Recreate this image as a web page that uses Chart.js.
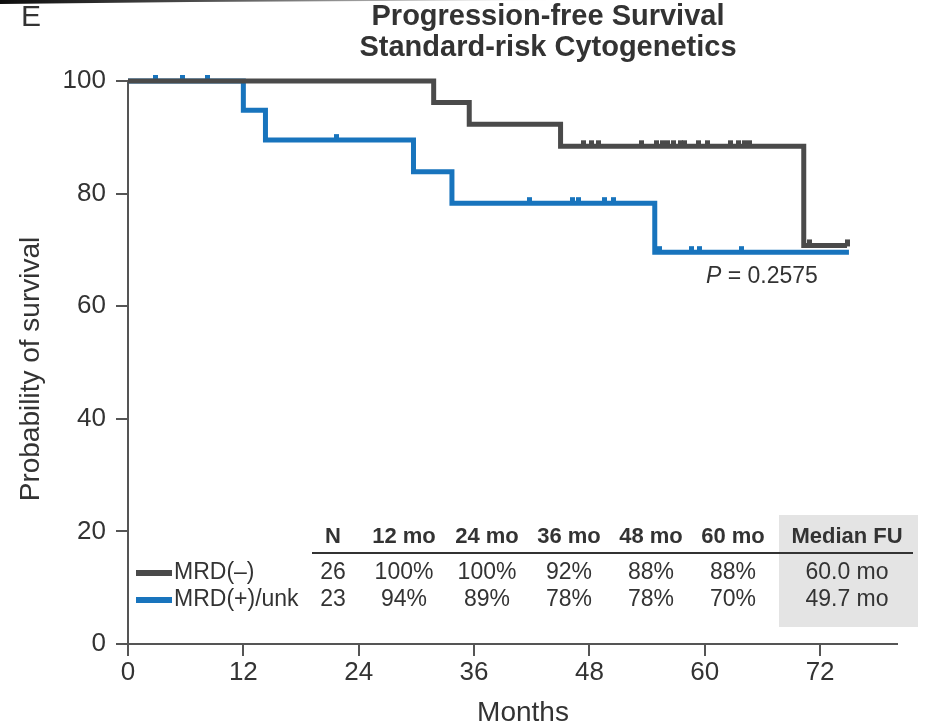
<!DOCTYPE html>
<html>
<head>
<meta charset="utf-8">
<script src="https://cdn.jsdelivr.net/npm/chart.js@4.4.1/dist/chart.umd.min.js"></script>
<style>
html,body{margin:0;padding:0;background:#fff;}
#wrap{position:relative;width:926px;height:728px;}
</style>
</head>
<body>
<div id="wrap"><canvas id="c" width="926" height="728"></canvas></div>
<script>
// ---- Data ----
const titleLines = ["Progression-free Survival", "Standard-risk Cytogenetics"];
const panelLabel = "E";
const xTitle = "Months";
const yTitle = "Probability of survival";
const pLabel = "= 0.2575";

// MRD(-) Kaplan-Meier steps (months, survival %)
const negTimes = [0, 31.8, 35.5, 45.0, 70.3, 74.8];
const negSurv  = [100, 96.2, 92.3, 88.4, 70.8, 70.8];
// MRD(-) censor marks
const negCensorT = [47.4, 48.2, 48.9, 53.4, 55.0, 55.6, 56.1, 56.8, 57.5, 57.9, 59.3, 60.3, 62.7, 63.5, 64.1, 64.7, 70.9, 74.8];
const negCensorS = [88.4, 88.4, 88.4, 88.4, 88.4, 88.4, 88.4, 88.4, 88.4, 88.4, 88.4, 88.4, 88.4, 88.4, 88.4, 88.4, 70.8, 70.8];

// MRD(+)/unk Kaplan-Meier steps
const posTimes = [0, 12.0, 14.3, 29.7, 33.7, 54.8, 75.0];
const posSurv  = [100, 94.8, 89.5, 83.9, 78.3, 69.6, 69.6];
// MRD(+)/unk censor marks
const posCensorT = [2.9, 5.7, 8.3, 21.7, 41.8, 46.2, 46.9, 49.6, 50.5, 55.3, 58.6, 59.5, 63.8];
const posCensorS = [100, 100, 100, 89.5, 78.3, 78.3, 78.3, 78.3, 78.3, 69.6, 69.6, 69.6, 69.6];

const xTicks = [0, 12, 24, 36, 48, 60, 72];
const yTicks = [0, 20, 40, 60, 80, 100];

// Table
const tableHeader = ["N", "12 mo", "24 mo", "36 mo", "48 mo", "60 mo", "Median FU"];
const groupNames = ["MRD(\u2013)", "MRD(+)/unk"];
const rowNeg = ["26", "100%", "100%", "92%", "88%", "88%", "60.0 mo"];
const rowPos = ["23", "94%", "89%", "78%", "78%", "70%", "49.7 mo"];

const GRAY = "#4a4a4a";
const BLUE = "#1874bd";
const TEXT = "#333333";
const AXIS = "#555555";
const FONT = "'Liberation Sans', Arial, Helvetica, sans-serif";

function pts(t, s){ return t.map((v,i)=>({x:v, y:s[i]})); }

// censor mark: small block sitting on top of the curve
function censorMark(color){
  const c = document.createElement('canvas');
  c.width = 5; c.height = 16;
  const g = c.getContext('2d');
  g.fillStyle = color;
  g.fillRect(0, 2, 5, 7);
  return c;
}

const decor = {
  id: 'decor',
  beforeDraw(chart){
    const ctx = chart.ctx;
    ctx.save();
    const g = ctx.createLinearGradient(0,0,560,0);
    g.addColorStop(0,'rgba(0,0,0,0.95)');
    g.addColorStop(0.35,'rgba(0,0,0,0.7)');
    g.addColorStop(1,'rgba(0,0,0,0)');
    ctx.fillStyle = g;
    ctx.beginPath();
    ctx.moveTo(0,0); ctx.lineTo(560,0); ctx.lineTo(190,2); ctx.lineTo(0,4); ctx.closePath();
    ctx.fill();
    ctx.fillStyle = '#e4e4e4';
    ctx.fillRect(779, 515, 139, 112);
    ctx.restore();
  },
  afterDraw(chart){
    const ctx = chart.ctx;
    ctx.save();
    ctx.fillStyle = TEXT;
    ctx.textAlign = 'center';
    ctx.textBaseline = 'middle';
    ctx.font = "bold 29px " + FONT;
    ctx.fillText(titleLines[0], 548, 17);
    ctx.fillText(titleLines[1], 548, 48);
    ctx.font = "30px " + FONT;
    ctx.fillText(panelLabel, 31, 18);
    ctx.font = "28px " + FONT;
    ctx.fillText(xTitle, 523, 713);
    ctx.save();
    ctx.translate(31, 369);
    ctx.rotate(-Math.PI/2);
    ctx.fillText(yTitle, 0, 0);
    ctx.restore();
    ctx.textAlign = 'left';
    ctx.font = "italic 23px " + FONT;
    ctx.fillText("P", 706, 277);
    const pw = ctx.measureText("P ").width;
    ctx.font = "23px " + FONT;
    ctx.fillText(pLabel, 706 + pw, 277);
    const colX = [333, 404, 487, 569, 651, 733, 847];
    ctx.textAlign = 'center';
    ctx.font = "bold 22px " + FONT;
    tableHeader.forEach((h,i)=>ctx.fillText(h, colX[i], 537));
    ctx.strokeStyle = '#333';
    ctx.lineWidth = 2;
    ctx.beginPath(); ctx.moveTo(312, 553); ctx.lineTo(913, 553); ctx.stroke();
    ctx.font = "23px " + FONT;
    const rowY = [573, 600];
    [rowNeg, rowPos].forEach((r,ri)=>{
      r.forEach((v,i)=>ctx.fillText(v, colX[i], rowY[ri]));
    });
    ctx.textAlign = 'left';
    [GRAY, BLUE].forEach((c,i)=>{
      ctx.strokeStyle = c; ctx.lineWidth = 6;
      ctx.beginPath(); ctx.moveTo(136, rowY[i]); ctx.lineTo(172, rowY[i]); ctx.stroke();
      ctx.fillText(groupNames[i], 174, rowY[i]);
    });
    ctx.restore();
  }
};

new Chart(document.getElementById('c'), {
  type: 'line',
  data: {
    datasets: [
      { label: groupNames[0], data: pts(negTimes, negSurv), borderColor: GRAY, borderWidth: 5, stepped: true, pointRadius: 0, fill: false, clip: false },
      { label: 'neg censor', data: pts(negCensorT, negCensorS), showLine: false, pointStyle: censorMark(GRAY), pointRadius: 5, clip: false },
      { label: groupNames[1], data: pts(posTimes, posSurv), borderColor: BLUE, borderWidth: 5, stepped: true, pointRadius: 0, fill: false, clip: false },
      { label: 'pos censor', data: pts(posCensorT, posCensorS), showLine: false, pointStyle: censorMark(BLUE), pointRadius: 5, clip: false }
    ]
  },
  options: {
    responsive: false,
    animation: false,
    devicePixelRatio: 1,
    layout: { padding: { top: 81, right: 29, left: 0, bottom: 0 } },
    plugins: { legend: { display: false }, tooltip: { enabled: false }, title: { display: false } },
    scales: {
      x: {
        type: 'linear', min: 0, max: 80,
        afterBuildTicks(s){ s.ticks = xTicks.map(v=>({value:v})); },
        afterFit(s){ s.height = 84; },
        ticks: { color: TEXT, font: { family: FONT, size: 26 }, padding: 1, maxRotation: 0, autoSkip: false },
        grid: { drawOnChartArea: false, drawTicks: true, tickLength: 12, color: AXIS, lineWidth: 2 },
        border: { display: true, color: AXIS, width: 2 }
      },
      y: {
        type: 'linear', min: 0, max: 100,
        afterBuildTicks(s){ s.ticks = yTicks.map(v=>({value:v})); },
        afterFit(s){ s.width = 128; },
        ticks: { color: TEXT, font: { family: FONT, size: 26 }, padding: 10 },
        grid: { drawOnChartArea: false, drawTicks: true, tickLength: 12, color: AXIS, lineWidth: 2 },
        border: { display: true, color: AXIS, width: 2 }
      }
    }
  },
  plugins: [decor]
});
</script>
</body>
</html>
